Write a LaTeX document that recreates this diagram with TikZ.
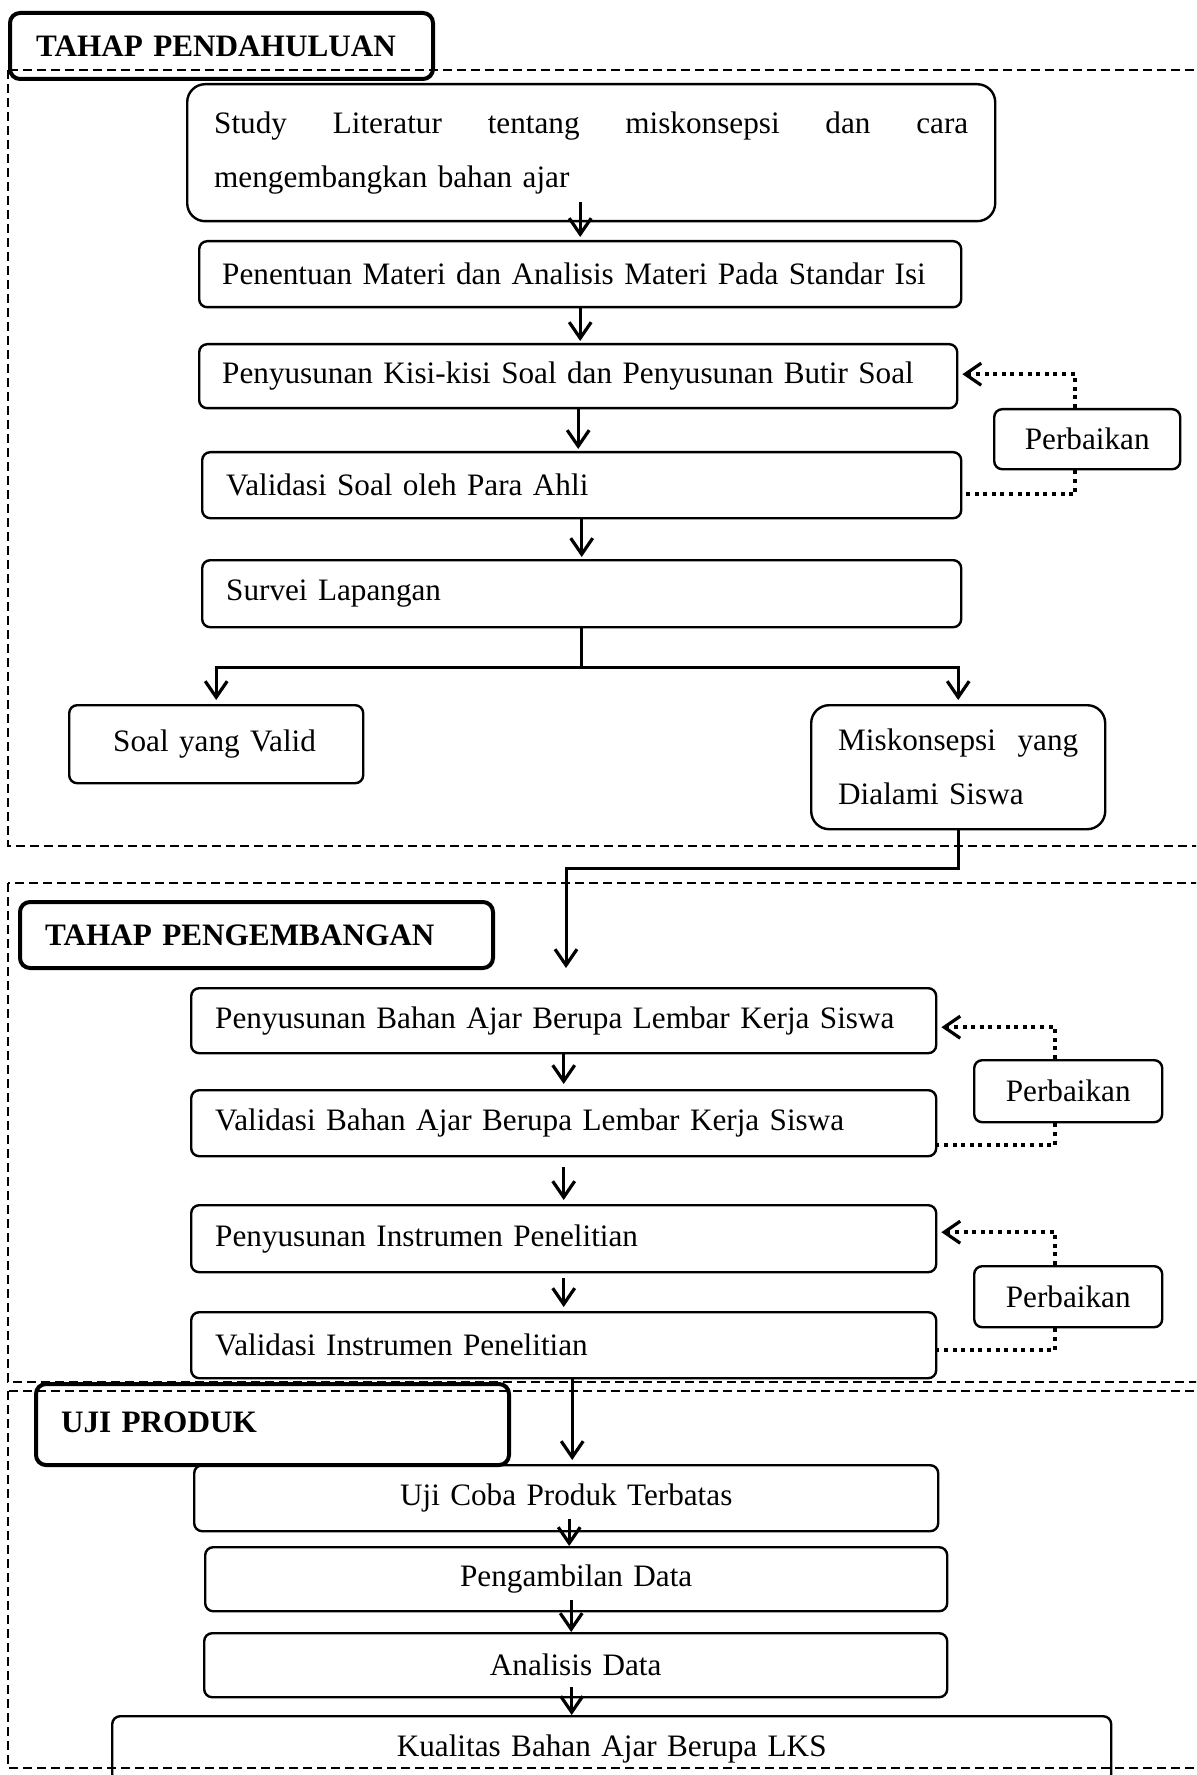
\documentclass[tikz,border=0pt]{standalone}
\usepackage{fontspec}
\setmainfont{Liberation Serif}
\usetikzlibrary{arrows.meta}
\newcommand\myfs{\fontsize{15.6pt}{27pt}\selectfont}
\begin{document}
\begin{tikzpicture}[x=0.5pt,y=-0.5pt,
  tipstyle/.style={-{Straight Barb[length=8pt,width=11pt,line width=1.6pt]}},
  arr/.style={line width=1.5pt,tipstyle},
  ln/.style={line width=1.5pt},
  dotl/.style={line width=2pt, dash pattern=on 2pt off 2.3pt},
  dotarr/.style={dotl,tipstyle},
  frame/.style={line width=1.1pt, dash pattern=on 4.5pt off 2.5pt},
  box/.style={draw, line width=1.2pt, rounded corners=4pt, anchor=north west, inner ysep=0pt, align=left, font=\myfs},
  ttl/.style={draw, line width=2pt, rounded corners=5pt, anchor=north west, inner ysep=0pt, align=left, font=\myfs\bfseries},
  cbox/.style={box, align=center, inner xsep=0pt},
]
\useasboundingbox (0,0) rectangle (1196,1775);
\clip (0,0) rectangle (1196,1775);

% dashed frames
\draw[frame] (8,70) rectangle (1260,846);
\draw[frame] (8,883) rectangle (1260,1382);
\draw[frame] (8,1391) rectangle (1260,1768);

% TAHAP PENDAHULUAN
\node[ttl, text width=185.5pt, inner xsep=13pt, minimum height=33pt] (t1) at (8,11) {TAHAP PENDAHULUAN};
\node[box, rounded corners=9pt, text width=377pt, inner xsep=13.5pt, minimum height=68.5pt] (s1) at (186,83)
  {\raisebox{3pt}{\hbox to 377pt{Study\hfill Literatur\hfill tentang\hfill miskonsepsi\hfill dan\hfill cara}}\\\raisebox{3pt}{mengembangkan bahan ajar}};
\node[box, text width=358pt, inner xsep=11.5pt, minimum height=33pt] (s2) at (198,240) {Penentuan Materi dan Analisis Materi Pada Standar Isi};
\node[box, text width=356pt, inner xsep=11.5pt, minimum height=32pt] (s3) at (198,343) {Penyusunan Kisi-kisi Soal dan Penyusunan Butir Soal};
\node[box, text width=355.5pt, inner xsep=12pt, minimum height=33pt] (s4) at (201,451) {Validasi Soal oleh Para Ahli};
\node[box, text width=355.5pt, inner xsep=12pt, minimum height=33.5pt] (s5) at (201,559) {Survei Lapangan};
\node[cbox, text width=93pt, minimum height=30pt] (p1) at (993,408) {Perbaikan};
\node[box, text width=103pt, inner xsep=22pt, minimum height=39pt] (v1) at (68,704) {\raisebox{2pt}{Soal yang Valid}};
\node[box, rounded corners=9pt, text width=120pt, inner xsep=13.5pt, minimum height=62pt] (m1) at (810,704)
  {\hbox to 120pt{Miskonsepsi\hfill yang}\\Dialami Siswa};

% TAHAP PENGEMBANGAN
\node[ttl, text width=211.5pt, inner xsep=12.5pt, minimum height=33pt] (t2) at (18,900) {TAHAP PENGEMBANGAN};
\node[box, text width=348.5pt, inner xsep=12pt, minimum height=32.5pt] (d1) at (190,987) {Penyusunan Bahan Ajar Berupa Lembar Kerja Siswa};
\node[box, text width=348.5pt, inner xsep=12pt, minimum height=33pt] (d2) at (190,1089) {Validasi Bahan Ajar Berupa Lembar Kerja Siswa};
\node[box, text width=348.5pt, inner xsep=12pt, minimum height=33.5pt] (d3) at (190,1204) {Penyusunan Instrumen Penelitian};
\node[box, text width=348.5pt, inner xsep=12pt, minimum height=33pt] (d4) at (190,1311) {Validasi Instrumen Penelitian};
\node[cbox, text width=94pt, minimum height=31pt] (p2) at (973,1059) {Perbaikan};
\node[cbox, text width=94pt, minimum height=30.5pt] (p3) at (973,1265) {Perbaikan};

% UJI PRODUK
\node[ttl, text width=211.5pt, inner xsep=12.5pt, minimum height=40.5pt] (t3) at (34,1382) {\raisebox{2pt}{UJI PRODUK}};
\node[cbox, text width=372pt, minimum height=33pt] (u1) at (193,1464) {Uji Coba Produk Terbatas};
\node[cbox, text width=371pt, minimum height=32pt] (u2) at (204,1546) {Pengambilan Data};
\node[cbox, text width=371.5pt, minimum height=32pt] (u3) at (203,1632) {Analisis Data};
\node[cbox, text width=499.5pt, minimum height=33pt] (u4) at (111,1715) {Kualitas Bahan Ajar Berupa LKS};

% connectors: pendahuluan
\draw[arr] ([yshift=19pt]s2.north) -- ([yshift=1.5pt]s2.north);
\draw[arr] (s2.south) -- ([yshift=1pt]s2.south |- s3.north);
\draw[arr] (s3.south) -- ([yshift=1pt]s3.south |- s4.north);
\draw[arr] (s4.south) -- ([yshift=1pt]s4.south |- s5.north);
\path (s5.south) ++(0,39) coordinate (br);
\draw[ln] (s5.south) -- (br);
\draw[arr] (br) -| ([yshift=2pt]v1.north);
\draw[arr] (br) -| ([yshift=2pt]m1.north);
\draw[dotarr] ([xshift=-6pt]p1.north) |- ([xshift=2pt,yshift=1pt]s3.east);
\draw[dotl] ([xshift=-6pt]p1.south) |- ([yshift=-4.5pt]s4.east);

% connector to pengembangan
\coordinate (k1) at (566,868);
\coordinate (k2) at (566,968);
\draw[arr] (m1.south) |- (k1) -- (k2);

% connectors: pengembangan
\draw[arr] (d1.south) -- ([yshift=2.5pt]d1.south |- d2.north);
\draw[arr] ([yshift=-5pt]d2.south) -- ([yshift=2pt]d2.south |- d3.north);
\draw[arr] ([yshift=-2.5pt]d3.south) -- ([yshift=2pt]d3.south |- d4.north);
\draw[dotarr] ([xshift=-6.5pt]p2.north) |- ([xshift=2pt,yshift=-3.25pt]d1.east);
\draw[dotl] ([xshift=-6.5pt]p2.south) |- ([yshift=-11pt]d2.east);
\draw[dotarr] ([xshift=-6.5pt]p3.north) |- ([xshift=2pt,yshift=3.25pt]d3.east);
\draw[dotl] ([xshift=-6.5pt]p3.south) |- ([yshift=-2.5pt]d4.east);

% connectors: uji produk
\draw[arr] ([xshift=3pt]u1.north |- d4.south) -- ([xshift=3pt,yshift=2pt]u1.north);
\draw[arr] ([xshift=1.5pt,yshift=6.5pt]u1.south) -- ([xshift=1.5pt]u1.south |- u2.north);
\draw[arr] ([xshift=-2.5pt,yshift=6pt]u2.south) -- ([xshift=-2.5pt]u2.south |- u3.north);
\draw[arr] ([xshift=-2pt,yshift=5.5pt]u3.south) -- ([xshift=-2pt]u3.south |- u4.north);
\end{tikzpicture}
\end{document}
